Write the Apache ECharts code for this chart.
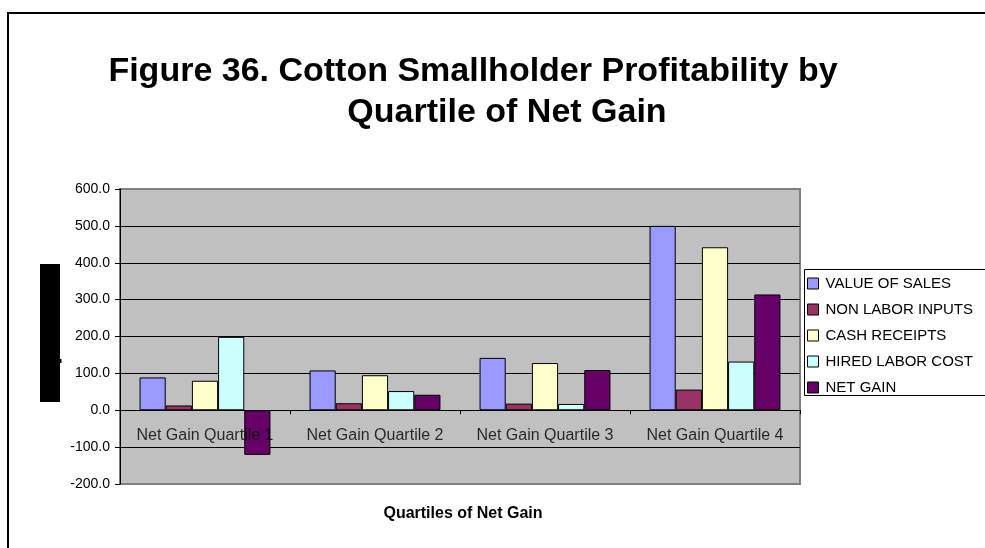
<!DOCTYPE html>
<html>
<head>
<meta charset="utf-8">
<script src="https://cdn.jsdelivr.net/npm/echarts@6/dist/echarts.min.js"></script>
<style>
  html, body { margin: 0; padding: 0; background: #fff; }
  #chart { width: 985px; height: 548px; }
</style>
</head>
<body>
<div id="chart"></div>
<script>
// Quartile categories along the x axis
const categories = ['Net Gain Quartile 1', 'Net Gain Quartile 2', 'Net Gain Quartile 3', 'Net Gain Quartile 4'];

// Series values per quartile
const valueOfSales     = [89, 108, 142, 500];
const nonLaborInputs   = [13, 19, 18, 56];
const cashReceipts     = [80, 95, 128, 442];
const hiredLaborCost   = [199, 52, 17, 132];
const netGain          = [-121, 42, 109, 314];

const seriesNames = ['VALUE OF SALES', 'NON LABOR INPUTS', 'CASH RECEIPTS', 'HIRED LABOR COST', 'NET GAIN'];
const seriesData = [valueOfSales, nonLaborInputs, cashReceipts, hiredLaborCost, netGain];
const seriesColors = ['#9999FF', '#993366', '#FFFFCC', '#CCFFFF', '#660066'];

// Value axis range
const yMin = -200, yMax = 600, yStep = 100;

const FONT = '"Liberation Sans", Arial, sans-serif';

const chart = echarts.init(document.getElementById('chart'), null, { renderer: 'canvas' });

const gridLineColors = ['#808080', '#000', '#000', '#000', '#000', '#000', '#000', '#000', '#808080'];

// Bar series, one per measure
const barSeries = seriesNames.map((name, i) => ({
  name,
  type: 'bar',
  data: seriesData[i],
  barGap: '0%',
  barCategoryGap: '23%',
  itemStyle: { color: seriesColors[i], borderColor: '#000', borderWidth: 1 }
}));

// Category names written just under the zero line
const categoryLabelSeries = {
  name: 'category labels',
  type: 'scatter',
  z: 10,
  silent: true,
  symbolSize: 0,
  data: categories.map(c => [c, 0]),
  label: {
    show: true,
    position: 'bottom',
    distance: 17,
    formatter: p => p.name || p.value[0],
    fontFamily: FONT, fontSize: 16, color: '#000'
  },
  tooltip: { show: false }
};

chart.setOption({
  animation: false,
  backgroundColor: '#ffffff',
  textStyle: { fontFamily: FONT },
  title: [
    {
      text: 'Figure 36. Cotton Smallholder Profitability by',
      left: 468, top: 50, textAlign: 'center',
      textStyle: { fontFamily: FONT, fontSize: 34, fontWeight: 'bold', color: '#000' }
    },
    {
      text: 'Quartile of Net Gain',
      left: 502, top: 91, textAlign: 'center',
      textStyle: { fontFamily: FONT, fontSize: 34, fontWeight: 'bold', color: '#000' }
    },
    {
      text: 'Quartiles of Net Gain',
      left: 458, top: 501, textAlign: 'center',
      textStyle: { fontFamily: FONT, fontSize: 16, fontWeight: 'bold', color: '#000' }
    }
  ],
  graphic: [
    {
      type: 'rect', z: -10, silent: true,
      shape: { x: 8, y: 13, width: 1100, height: 700 },
      style: { fill: 'none', stroke: '#000', lineWidth: 2 }
    },
    {
      type: 'rect', z: -5, silent: true,
      shape: { x: 40, y: 264, width: 20, height: 138 },
      style: { fill: '#000' }
    },
    {
      type: 'rect', z: -5, silent: true,
      shape: { x: 60, y: 359, width: 1.5, height: 4 },
      style: { fill: '#000' }
    },
    {
      type: 'rect', z: -5, silent: true,
      shape: { x: 804.5, y: 269.5, width: 300, height: 126 },
      style: { fill: '#fff', stroke: '#000', lineWidth: 1 }
    }
  ],
  legend: {
    orient: 'vertical',
    left: 807, top: 276,
    padding: 0,
    itemWidth: 11, itemHeight: 11,
    itemGap: 11,
    icon: 'rect',
    selectedMode: false,
    itemStyle: { borderColor: '#000', borderWidth: 1 },
    textStyle: { fontFamily: FONT, fontSize: 15, color: '#000', lineHeight: 15, padding: [0, 0, 0, 2] },
    data: seriesNames
  },
  grid: {
    left: 120, right: 185, top: 189, bottom: 64,
    show: true,
    backgroundColor: '#C0C0C0',
    borderColor: '#808080',
    borderWidth: 2
  },
  xAxis: {
    type: 'category',
    data: categories,
    axisLine: { onZero: true, lineStyle: { color: '#000', width: 1 } },
    axisTick: { show: true, length: 4, inside: false, lineStyle: { color: '#000' } },
    axisLabel: { show: false },
    splitLine: { show: false }
  },
  yAxis: {
    type: 'value',
    min: yMin, max: yMax, interval: yStep,
    axisLine: { show: true, lineStyle: { color: '#000', width: 1 } },
    axisTick: { show: true, length: 5, lineStyle: { color: '#000' } },
    axisLabel: {
      fontFamily: FONT, fontSize: 14, color: '#000', margin: 10,
      formatter: v => v.toFixed(1)
    },
    splitLine: { show: true, lineStyle: { color: gridLineColors, width: 1 } }
  },
  series: barSeries.concat([categoryLabelSeries])
});
</script>
</body>
</html>
